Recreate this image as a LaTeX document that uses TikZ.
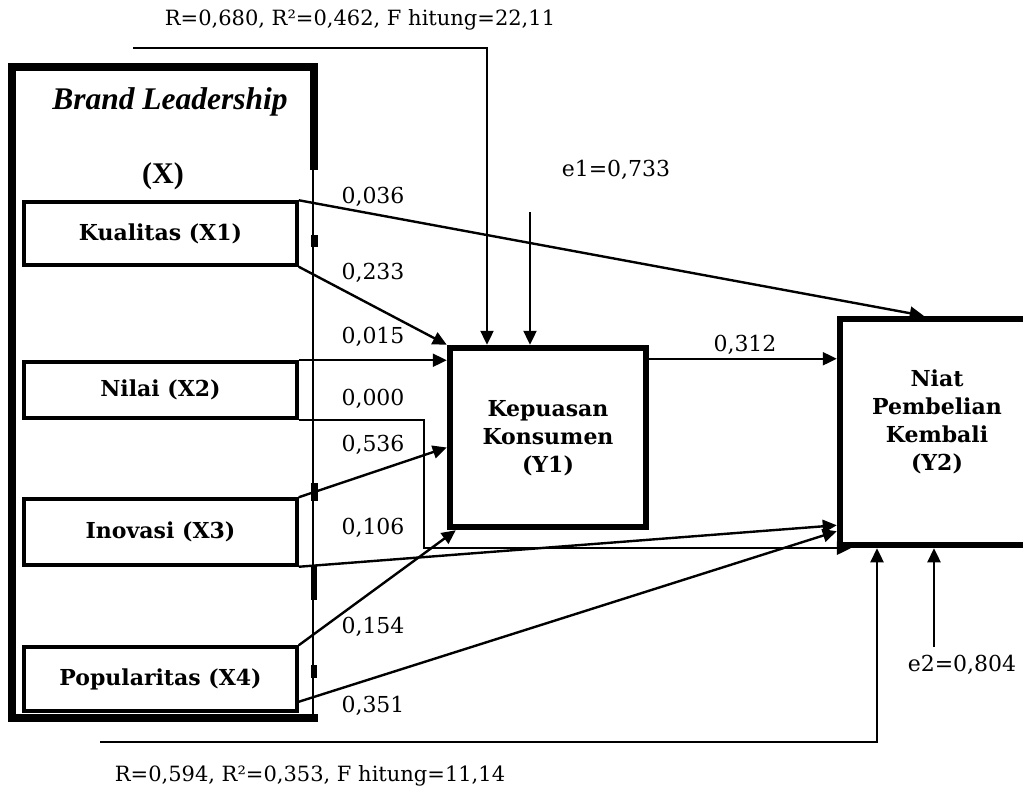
\documentclass[tikz,border=0pt]{standalone}
\usepackage{fontspec}
\setmainfont{DejaVu Serif}
\newfontfamily\tnr{Liberation Serif}
\usetikzlibrary{arrows.meta,calc}
\begin{document}
\begin{tikzpicture}[x=1pt,y=-1pt,
  arr/.style={line width=2.4pt,-{Triangle[length=14pt,width=13pt]}},
  xbox/.style={draw,line width=3.5pt,minimum width=273pt,inner sep=0pt,font=\fontsize{22}{26}\selectfont\bfseries},
  ybox/.style={draw,line width=6.5pt,inner sep=0pt},
  ytext/.style={align=center,inner sep=0pt,font=\fontsize{22}{28}\selectfont\bfseries},
  coef/.style={font=\fontsize{22}{26}\selectfont,inner sep=0pt},
  frame/.style={line width=8pt},
]
\clip (0,0) rectangle (1023,792);
\fill[white] (0,0) rectangle (1023,792);

% outer frame of Brand Leadership
\draw[frame] (314,170) -- (314,67) -- (12,67) -- (12,718) -- (318,718);
\draw[line width=2.5pt] (313,170) -- (313,716);
\fill (311,235) rectangle (318,247);
\fill (311,483) rectangle (318,501);
\fill (311,565) rectangle (317,600);
\fill (311,665) rectangle (317,678);
\node[font=\tnr\fontsize{31.5}{34}\selectfont\bfseries\itshape] (bl) at (170,102) {Brand Leadership};
\node[font=\tnr\fontsize{30}{34}\selectfont\bfseries] (bx) at (163,176) {(X)};

% indicator boxes
\node[xbox,minimum height=63pt] (x1) at (160.5,233.5) {Kualitas (X1)};
\node[xbox,minimum height=56pt] (x2) at (160.5,390) {Nilai (X2)};
\node[xbox,minimum height=66pt] (x3) at (160.5,532) {Inovasi (X3)};
\node[xbox,minimum height=64pt] (x4) at (160.5,679) {Popularitas (X4)};

% dependent variables
\node[ybox,minimum width=196pt,minimum height=179pt] (y1) at (548,437.5) {};
\node[ytext] (y1t) at (548,438) {Kepuasan\\Konsumen\\(Y1)};
\node[ybox,minimum width=194pt,minimum height=226pt] (y2) at (937,432) {};
\node[ytext] (y2t) at (937,422) {Niat\\Pembelian\\Kembali\\(Y2)};

% paths
\draw[arr] (x1.north east) -- ($(y2.north west)+(87,0)$);
\draw[arr] (x1.south east) -- (y1.north west);
\draw[arr] (x2.north east) -- (x2.north east -| y1.west);
\draw[arr] (x2.south east) -| ($(y2.south west)+(-413,0)$) -- ($(y2.south west)+(14,0)$);
\draw[arr] (x3.north east) -- ($(y1.west)+(0,10)$);
\draw[arr] (x3.south east) -- ($(y2.south west)+(0,-23)$);
\draw[arr] (x4.north east) -- ($(y1.south west)+(9,0)$);
\draw[arr] ($(x4.south east)+(0,-11)$) -- ($(y2.south west)+(0,-17)$);
\draw[arr] ($(y1.north east)+(0,14)$) -- ($(y2.west |- y1.north)+(0,14)$);

% coefficient labels
\node[coef] (c1) at (373,197) {0,036};
\node[coef] (c2) at (373,273) {0,233};
\node[coef] (c3) at (373,337) {0,015};
\node[coef] (c4) at (373,399) {0,000};
\node[coef] (c5) at (373,445) {0,536};
\node[coef] (c6) at (373,528) {0,106};
\node[coef] (c7) at (373,627) {0,154};
\node[coef] (c8) at (373,706) {0,351};
\node[coef] (c9) at (745,345) {0,312};

% errors
\coordinate (e1s) at (530,212);
\draw[arr] (e1s) -- (e1s |- y1.north);
\node[coef] (e1) at (616,170) {e1=0,733};
\coordinate (e2s) at (934,647);
\draw[arr] (e2s) -- (e2s |- y2.south);
\node[coef] (e2) at (962,665) {e2=0,804};

% simultaneous paths
\coordinate (t0) at (133,48);
\coordinate (t1) at (487,48);
\draw[arr] (t0) -- (t1) -- (t1 |- y1.north);
\node[coef,font=\fontsize{21}{25}\selectfont] (rt) at (360,20) {R=0,680, R²=0,462, F hitung=22,11};
\coordinate (b0) at (100,742);
\coordinate (b1) at (877,742);
\draw[arr] (b0) -- (b1) -- (b1 |- y2.south);
\node[coef,font=\fontsize{21}{25}\selectfont] (rb) at (310,776) {R=0,594, R²=0,353, F hitung=11,14};
\end{tikzpicture}
\end{document}
